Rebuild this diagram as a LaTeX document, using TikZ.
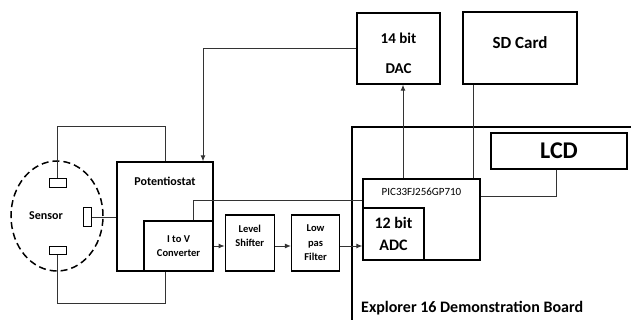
\documentclass[tikz,border=0pt]{standalone}
\usepackage{fontspec}
\setmainfont{Carlito}
\setsansfont{Carlito}
\usetikzlibrary{positioning,arrows.meta,shapes.geometric}

\begin{document}
\begin{tikzpicture}[x=1pt, y=-1pt,
    font=\sffamily\bfseries,
    box/.style={draw, line width=1.3pt, inner sep=0pt, align=center},
    elec/.style={draw, line width=1pt, inner sep=0pt},
    sensor/.style={draw, ellipse, dash pattern=on 7pt off 4pt, line width=1.5pt,
                   inner sep=0pt, minimum width=92pt, minimum height=110pt},
    wire/.style={draw=black!80, line width=1pt},
    arr/.style={wire, -{Latex[length=6pt,width=5pt]}},
    toplbl/.style={anchor=north, inner sep=0pt, align=center},
    txtS/.style={font=\sffamily\bfseries\fontsize{10.5}{14.5}\selectfont},
    txtM/.style={font=\sffamily\bfseries\fontsize{12}{14}\selectfont},
    txtL/.style={font=\sffamily\bfseries\fontsize{16}{22}\selectfont}
  ]
  \useasboundingbox (0,0) rectangle (631,320);

  % sensor with its electrodes
  \node[sensor, label={[txtM, xshift=-11pt]center:Sensor}] (sensor) at (57,216) {};
  \node[elec, minimum width=17pt, minimum height=9pt] (etop) at (57.5,183.5) {};
  \node[elec, minimum width=8pt, minimum height=19pt] (eright) at (87,217.5) {};
  \node[elec, minimum width=17pt, minimum height=8pt] (ebot) at (57.5,250) {};

  % analog front end
  \node[box, minimum width=96pt, minimum height=109pt,
        label={[toplbl, txtM, yshift=-16pt]north:Potentiostat}] (pot) at (165,216.5) {};
  \node[box, txtS, minimum width=69pt, minimum height=50pt] (conv) at (178.5,246) {I to V\\Converter};
  \node[box, txtS, minimum width=49pt, minimum height=56pt, right=11pt of conv, yshift=3pt]
        (shifter) {Level\\Shifter\\~};
  \node[box, txtS, minimum width=48pt, minimum height=56pt, right=16pt of shifter]
        (filter) {Low\\pas\\Filter};

  % explorer board
  \draw[line width=2pt] (631,127) -| (352,320);
  \node[anchor=west, inner sep=0pt, font=\sffamily\bfseries\fontsize{16}{18}\selectfont]
        (boardlbl) at (361,308) {Explorer 16 Demonstration Board};
  \node[box, minimum width=117pt, minimum height=81pt,
        label={[toplbl, font=\sffamily\fontsize{11}{13}\selectfont, yshift=-9.5pt]north:PIC33FJ256GP710}]
        (pic) at (421.5,219.5) {};
  \node[box, txtL, minimum width=61pt, minimum height=52pt] (adc) at (393.5,234) {12 bit\\ADC};
  \node[box, minimum width=136pt, minimum height=36pt,
        font=\sffamily\bfseries\fontsize{24}{28}\selectfont] (lcd) at (559,151) {LCD};

  % outside the board
  \node[box, minimum width=83pt, minimum height=71pt,
        label={[toplbl, font=\sffamily\bfseries\fontsize{15}{18}\selectfont, yshift=-20pt]north:14 bit\\[12pt]DAC}]
        (dac) at (398.5,48.5) {};
  \node[box, minimum width=114pt, minimum height=72pt,
        label={[toplbl, font=\sffamily\bfseries\fontsize{17}{20}\selectfont, yshift=-25.5pt]north:SD Card}]
        (sd) at (520,48) {};

  % connections
  \draw[wire] (etop.north) -- ++(0,-52) -| (pot.north);
  \draw[wire] (eright.east) -- (pot.west |- eright.east);
  \draw[wire] (ebot.south) -- ++(0,49) -| (pot.south);
  \draw[arr] (dac.west) -| ([xshift=38pt]pot.north);
  \draw[wire] ([xshift=15pt]conv.north) |- ([yshift=18.5pt]pic.west);
  \draw[arr] (conv.east) -- (conv.east -| shifter.west);
  \draw[arr] (conv.east -| shifter.east) -- (conv.east -| filter.west);
  \draw[arr] (conv.east -| filter.east) -- (conv.east -| adc.west);
  \draw[arr] ([xshift=-18.5pt]pic.north) -- ([xshift=-18.5pt]pic.north |- dac.south);
  \draw[wire] ([xshift=51.5pt]pic.north) -- ([xshift=51.5pt]pic.north |- sd.south);
  \draw[wire] ([xshift=-3pt]lcd.south) |- ([yshift=22.5pt]pic.east);
\end{tikzpicture}
\end{document}
